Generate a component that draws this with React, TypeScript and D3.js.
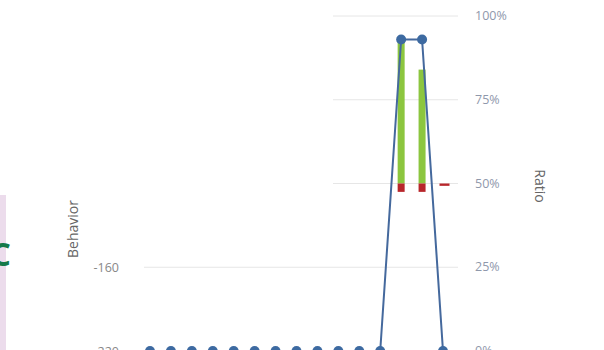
import React from "react";
import * as d3 from "d3";

const categories = ["1","2","3","4","5","6","7","8","9","10","11","12","13","14","15"];
const ratioLine = [0,0,0,0,0,0,0,0,0,0,0,0,93,93,0];
const greenTop = [null,null,null,null,null,null,null,null,null,null,null,null,93,84,null];
const redBottom = [null,null,null,null,null,null,null,null,null,null,null,null,47.5,47.5,49.3];
const barBase = 50;
const rightTicks = [0,25,50,75,100];
const leftTicks = [-220,-160,-100,-40,20];

const W = 604, H = 350;

export default function App() {
  const x = d3.scalePoint<string>().domain(categories).range([150, 443]);
  const yR = d3.scaleLinear().domain([0, 100]).range([351, 16]);
  const yL = d3.scaleLinear().domain([-220, 20]).range([351, 16]);
  const line = d3.line<number>()
    .x((_, i) => x(categories[i]) as number)
    .y((d) => yR(d));
  const bw = 7;
  const font = "'Open Sans', 'DejaVu Sans', sans-serif";
  return (
    <svg width={W} height={H} style={{ position: "fixed", left: 0, top: 0, background: "#fff" }}>
      <rect x={0} y={0} width={W} height={H} fill="#fff" />
      {rightTicks.map((t) => (
        <line key={t} x1={144} x2={458} y1={yR(t)} y2={yR(t)} stroke="#e6e6e6" strokeWidth={1} />
      ))}
      {rightTicks.map((t) => (
        <text key={t} x={475} y={yR(t) + 4} fontSize={12.5} fill="#8f98ab" fontFamily={font}>{t}%</text>
      ))}
      <text transform={`translate(535,186) rotate(90)`} textAnchor="middle" fontSize={14} fill="#666" fontFamily={font}>Ratio</text>
      {leftTicks.map((t) => (
        <text key={t} x={119} y={yL(t) + 4.5} textAnchor="end" fontSize={12.5} fill="#888" fontFamily={font}>{t}</text>
      ))}
      <text transform={`translate(78,258) rotate(-90)`} textAnchor="start" fontSize={14} fill="#666" fontFamily={font}>Behavior</text>
      {greenTop.map((v, i) => v == null ? null : (
        <rect key={"g" + i} x={(x(categories[i]) as number) - bw / 2} y={yR(v)} width={bw} height={yR(barBase) - yR(v)} fill="#8cc63f" />
      ))}
      {redBottom.map((v, i) => v == null ? null : (
        <rect key={"r" + i} x={(x(categories[i]) as number) - bw / 2} y={yR(barBase)} width={i === 14 ? 10 : bw} height={yR(v) - yR(barBase)} fill="#b8262b" />
      ))}
      <path d={line(ratioLine) || ""} fill="none" stroke="#45699d" strokeWidth={2} />
      {ratioLine.map((v, i) => (
        <circle key={"c" + i} cx={x(categories[i]) as number} cy={yR(v)} r={5} fill="#3d6aa1" />
      ))}
      <rect x={0} y={0} width={333} height={195} fill="#fff" />
      <rect x={0} y={195} width={6} height={H - 195} fill="#ecdcec" />
      <text x={11} y={266} textAnchor="end" fontSize={32} fontWeight="bold" fill="#16794a" fontFamily={font}>C</text>
    </svg>
  );
}
